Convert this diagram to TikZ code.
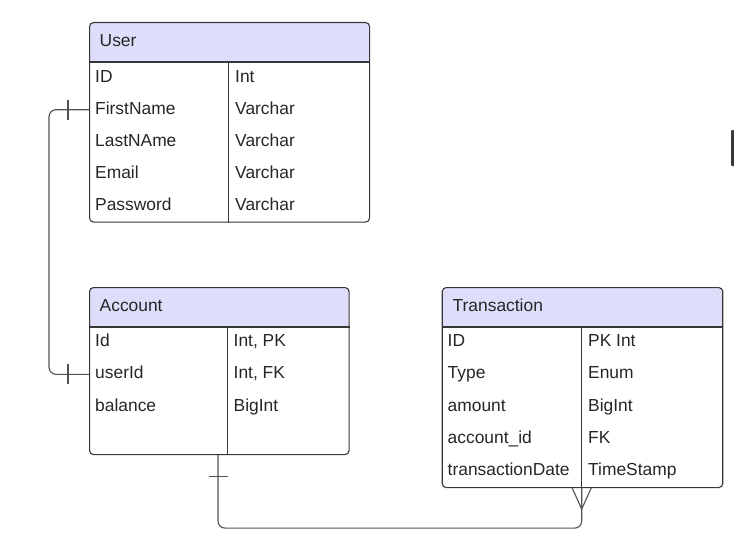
\documentclass[tikz,border=0pt]{standalone}
\usepackage{fontspec}
\setmainfont{Liberation Sans}
\usetikzlibrary{positioning, calc}

\definecolor{headfill}{RGB}{222,222,250}
\definecolor{boxline}{RGB}{55,55,55}
\definecolor{relline}{RGB}{80,80,80}
\definecolor{txtcol}{RGB}{38,38,38}

\begin{document}
\begin{tikzpicture}[x=1pt, y=-1pt,
        tbl/.style={draw=boxline, line width=1.1pt, rounded corners=4pt, anchor=north west, inner sep=0pt,
            path picture={\fill[headfill, sharp corners] (path picture bounding box.north west) rectangle ([yshift=-40pt]path picture bounding box.north east);}},
        sep/.style={draw=boxline, line width=1.1pt},
        field/.style={anchor=base west, inner sep=0pt, text=txtcol, font=\fontsize{17.4}{20}\selectfont},
        rel/.style={draw=relline, line width=1.1pt, rounded corners=7pt},
        tick/.style={draw=relline, line width=1.1pt}]
    \useasboundingbox (0,0) rectangle (734,535);

    % tables
    \node[tbl, minimum width=280pt, minimum height=199.5pt] (user) at (89,22) {};
    \node[tbl, minimum width=259.5pt, minimum height=167pt] (account) at (89,287) {};
    \node[tbl, minimum width=280.5pt, minimum height=200pt] (trans) at (441.7,287) {};

    \draw[sep] ([yshift=-40pt]user.north west) -- ([yshift=-40pt]user.north east);
    \draw[sep] ([xshift=139.5pt,yshift=-40pt]user.north west) -- ([xshift=139.5pt]user.south west);
    \draw[sep] ([yshift=-40pt]account.north west) -- ([yshift=-40pt]account.north east);
    \draw[sep] ([xshift=138.7pt,yshift=-40pt]account.north west) -- ([xshift=138.7pt]account.south west);
    \draw[sep] ([yshift=-40pt]trans.north west) -- ([yshift=-40pt]trans.north east);
    \draw[sep] ([xshift=140pt,yshift=-40pt]trans.north west) -- ([xshift=140pt]trans.south west);

    % headers
    \node[field] (user-h) at (99.5,46.5) {User};
    \node[field] (acct-h) at (99.5,311.5) {Account};
    \node[field] (trans-h) at (452.5,311.5) {Transaction};

    % rows
    \foreach \f/\t [count=\i] in {ID/Int, FirstName/Varchar, LastNAme/Varchar, Email/Varchar, Password/Varchar} {
        \node[field] (user-f\i) at (95,49.8+32.2*\i) {\f};
        \node[field] (user-t\i) at (235,49.8+32.2*\i) {\t};
    }
    \foreach \f/\t [count=\i] in {Id/{Int, PK}, userId/{Int, FK}, balance/BigInt} {
        \node[field] (acct-f\i) at (95,314.2+32.3*\i) {\f};
        \node[field] (acct-t\i) at (233.5,314.2+32.3*\i) {\t};
    }
    \foreach \f/\t [count=\i] in {ID/PK Int, Type/Enum, amount/BigInt, account\_id/FK, transactionDate/TimeStamp} {
        \node[field] (trans-f\i) at (447.5,314.2+32.3*\i) {\f};
        \node[field] (trans-t\i) at (588,314.2+32.3*\i) {\t};
    }

    % user -- account
    \coordinate (fk-user) at ($(user.west |- user-f2.base)+(0,-4.5)$);
    \coordinate (fk-acct) at ($(account.west |- acct-f2.base)+(0,-4.5)$);
    \draw[rel] (fk-user) -- ++(-40,0) |- (fk-acct);
    \draw[tick] ($(fk-user)+(-21,-10)$) -- ++(0,20);
    \draw[tick] ($(fk-acct)+(-21,-10)$) -- ++(0,20);

    % account -- transaction
    \coordinate (acct-bot) at ([xshift=129pt]account.south west);
    \coordinate (trans-bot) at ([xshift=140pt]trans.south west);
    \draw[rel] (acct-bot) -- ++(0,73) -| (trans-bot);
    \draw[tick] ($(acct-bot)+(-9.5,21)$) -- ++(19,0);
    \draw[tick] ($(trans-bot)+(-9.5,0)$) -- ($(trans-bot)+(0,21)$) -- ($(trans-bot)+(9.5,0)$);

    \fill[boxline, rounded corners=1pt] (731.2,130) rectangle (736,166);
\end{tikzpicture}
\end{document}
